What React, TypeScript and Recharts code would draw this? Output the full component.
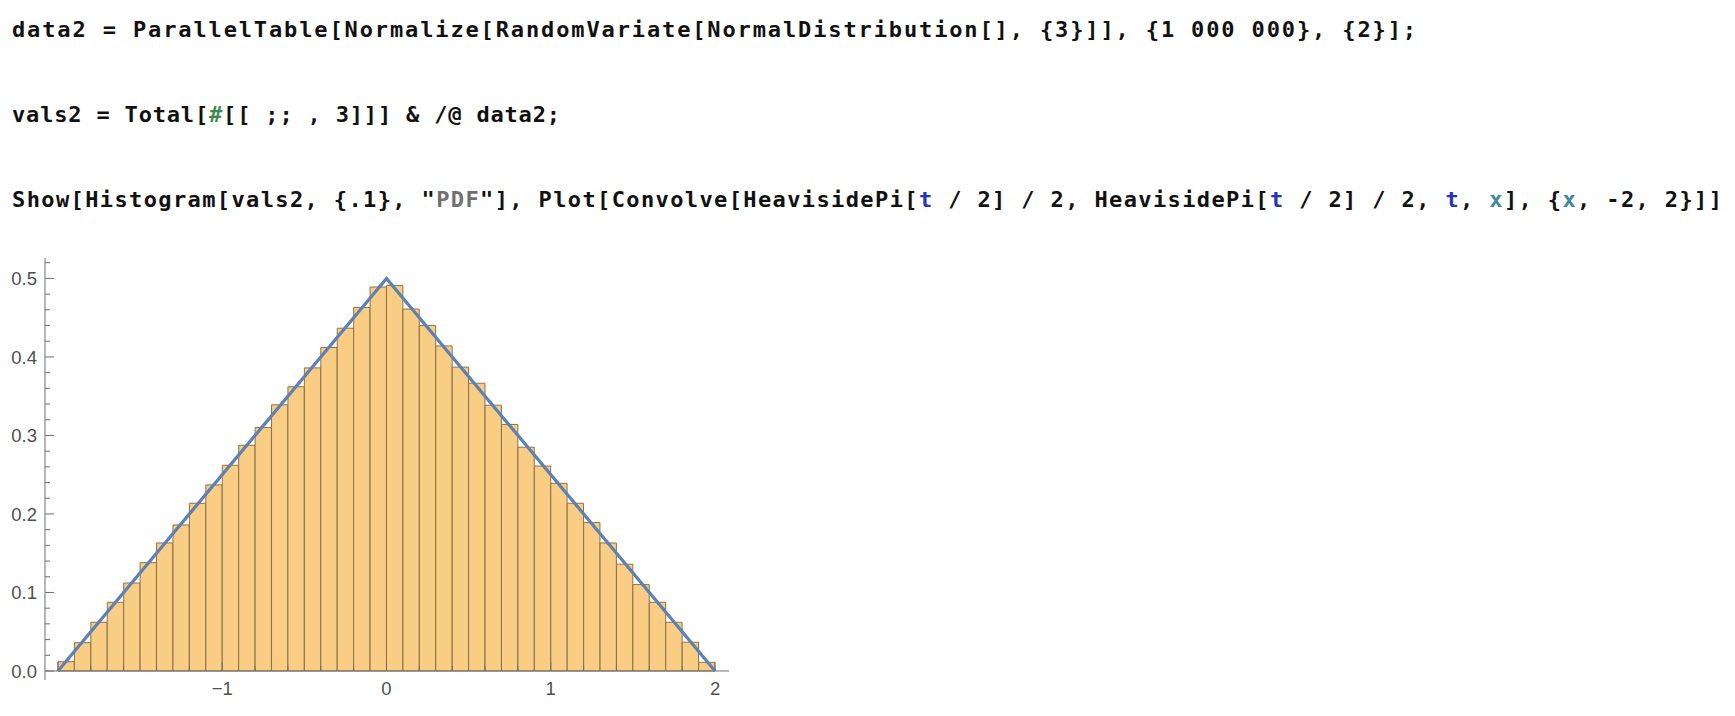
import { ComposedChart, Bar, Line, XAxis, YAxis, ReferenceLine } from "recharts";

// histogram bins (width 0.1) – centres and PDF heights
const BIN_CENTERS = [
  -1.95, -1.85, -1.75, -1.65, -1.55, -1.45, -1.35, -1.25, -1.15, -1.05,
  -0.95, -0.85, -0.75, -0.65, -0.55, -0.45, -0.35, -0.25, -0.15, -0.05,
  0.05, 0.15, 0.25, 0.35, 0.45, 0.55, 0.65, 0.75, 0.85, 0.95,
  1.05, 1.15, 1.25, 1.35, 1.45, 1.55, 1.65, 1.75, 1.85, 1.95,
];
const PDF_VALUES = [
  0.0118, 0.036, 0.062, 0.0875, 0.112, 0.138, 0.163, 0.186, 0.2136, 0.237,
  0.262, 0.2875, 0.31, 0.339, 0.362, 0.386, 0.412, 0.4366, 0.463, 0.489,
  0.491, 0.461, 0.44, 0.414, 0.387, 0.3665, 0.3385, 0.314, 0.285, 0.261,
  0.239, 0.2136, 0.189, 0.163, 0.136, 0.11, 0.0875, 0.062, 0.0366, 0.011,
];

// the convolution curve (triangle)
const CURVE_X = [-2, 0, 2];
const CURVE_Y = [0, 0.5, 0];

const Y_TICKS = [
  0, 0.02, 0.04, 0.06, 0.08, 0.1, 0.12, 0.14, 0.16, 0.18, 0.2, 0.22, 0.24, 0.26,
  0.28, 0.3, 0.32, 0.34, 0.36, 0.38, 0.4, 0.42, 0.44, 0.46, 0.48, 0.5, 0.52,
];
const X_TICKS = [
  -2, -1.8, -1.6, -1.4, -1.2, -1, -0.8, -0.6, -0.4, -0.2, 0,
  0.2, 0.4, 0.6, 0.8, 1, 1.2, 1.4, 1.6, 1.8, 2,
];
const X_LABELS = [-1, 0, 1, 2];

const X_MIN = -2.079;
const X_MAX = 2.085;
const Y_MIN = -0.0115;
const Y_MAX = 0.526;

const CHART_W = 760;
const CHART_H = 476;
const MARGIN = { top: 18, right: 31, bottom: 0, left: 0 };
const Y_AXIS_W = 45;
const X_AXIS_H = 36;
const PLOT_LEFT = MARGIN.left + Y_AXIS_W;
const PLOT_W = CHART_W - PLOT_LEFT - MARGIN.right;
const PLOT_TOP = MARGIN.top;
const PLOT_BOTTOM = CHART_H - MARGIN.bottom - X_AXIS_H;
const ZERO_Y = PLOT_BOTTOM - ((0 - Y_MIN) / (Y_MAX - Y_MIN)) * (PLOT_BOTTOM - PLOT_TOP);
const BAR_W = (PLOT_W / (X_MAX - X_MIN)) * 0.1 - 0.1;

const AXIS = "#6e6e6e";
const LABEL = "#505050";

const histData = BIN_CENTERS.map((x, i) => ({ x, pdf: PDF_VALUES[i] }));
const curveData = CURVE_X.map((x, i) => ({ x, y: CURVE_Y[i] }));

const isMajor = (v: number, step: number) => Math.abs(v / step - Math.round(v / step)) < 1e-6;

const YTick = (props: any) => {
  const { y, payload } = props;
  const v = payload.value as number;
  const major = isMajor(v, 0.1);
  return (
    <g>
      <line x1={PLOT_LEFT} x2={PLOT_LEFT + (major ? 9 : 5)} y1={y} y2={y} stroke={AXIS} strokeWidth={1} />
      {major && (
        <text x={PLOT_LEFT - 8} y={y} dy="0.36em" textAnchor="end" fill={LABEL} fontSize={18.5}
          fontFamily="Liberation Sans, Arial, sans-serif">
          {v.toFixed(1)}
        </text>
      )}
    </g>
  );
};

const XTick = (props: any) => {
  const { x, payload } = props;
  const v = payload.value as number;
  const major = isMajor(v, 1);
  const labelled = X_LABELS.some((l) => Math.abs(l - v) < 1e-6);
  return (
    <g>
      <line x1={x} x2={x} y1={ZERO_Y} y2={ZERO_Y - (major ? 9 : 5)} stroke={AXIS} strokeWidth={1} />
      {labelled && (
        <text x={x} y={PLOT_BOTTOM + 15} textAnchor="middle" fill={LABEL} fontSize={18.5}
          fontFamily="Liberation Sans, Arial, sans-serif">
          {v < 0 ? `\u2212${Math.abs(v)}` : `${v}`}
        </text>
      )}
    </g>
  );
};

const mono = "DejaVu Sans Mono, monospace";
const BLUE = "#2433c4";
const TEAL = "#438a9c";

function Code() {
  return (
    <svg width={1735} height={240} style={{ position: "absolute", left: 0, top: 0 }}>
      <g fontFamily={mono} fontWeight="bold" fontSize={22} fill="#111">
        <text x={12} y={37} textLength={1404} lengthAdjust="spacing">
          data2 = ParallelTable[Normalize[RandomVariate[NormalDistribution[], {"{"}3{"}"}]], {"{"}1{"\u2009"}000{"\u2009"}000{"}"}, {"{"}2{"}"}];
        </text>
        <text x={12} y={122} textLength={548} lengthAdjust="spacing">
          vals2 = Total[<tspan fill="#3f8a52">#</tspan>[[ ;; , 3]]] &amp; /@ data2;
        </text>
        <text x={12} y={207} textLength={1710} lengthAdjust="spacing">
          Show[Histogram[vals2, {"{"}.1{"}"}, "<tspan fill="#707070">PDF</tspan>"], Plot[Convolve[HeavisidePi[
          <tspan fill={BLUE}>t</tspan> / 2] / 2, HeavisidePi[<tspan fill={BLUE}>t</tspan> / 2] / 2,{" "}
          <tspan fill={BLUE}>t</tspan>, <tspan fill={TEAL}>x</tspan>], {"{"}<tspan fill={TEAL}>x</tspan>, -2, 2{"}"}]]
        </text>
      </g>
    </svg>
  );
}

export default function App() {
  return (
    <div style={{ position: "absolute", left: 0, top: 0, width: 1735, height: 716, background: "#fff", overflow: "hidden" }}>
      <Code />
      <div style={{ position: "absolute", left: 0, top: 240 }}>
        <ComposedChart width={CHART_W} height={CHART_H} data={histData} margin={MARGIN} barCategoryGap={0} barGap={0}>
          <XAxis
            dataKey="x"
            type="number"
            domain={[X_MIN, X_MAX]}
            allowDataOverflow
            ticks={X_TICKS}
            interval={0}
            height={X_AXIS_H}
            axisLine={false}
            tickLine={false}
            tick={XTick}
          />
          <XAxis xAxisId="curve" dataKey="x" type="number" domain={[X_MIN, X_MAX]} allowDataOverflow hide />
          <YAxis
            type="number"
            domain={[Y_MIN, Y_MAX]}
            allowDataOverflow
            ticks={Y_TICKS}
            interval={0}
            width={Y_AXIS_W}
            axisLine={{ stroke: AXIS, strokeWidth: 1 }}
            tickLine={false}
            tick={YTick}
          />
          <Bar dataKey="pdf" fill="#facd85" stroke="#8d7249" strokeWidth={1} barSize={BAR_W} isAnimationActive={false} />
          <ReferenceLine y={0} stroke={AXIS} strokeWidth={1} />
          <Line
            xAxisId="curve"
            data={curveData}
            dataKey="y"
            type="linear"
            stroke="#5e81b5"
            strokeWidth={3.2}
            dot={false}
            activeDot={false}
            isAnimationActive={false}
          />
        </ComposedChart>
      </div>
    </div>
  );
}
